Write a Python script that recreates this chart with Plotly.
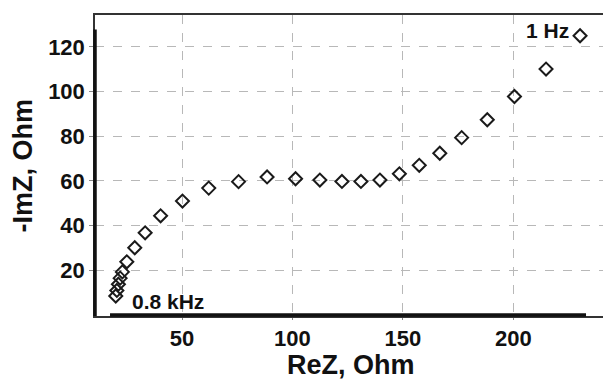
import plotly.graph_objects as go

re_z = [20.0, 20.5, 21.2, 22.0, 23.0, 25.0, 28.6, 33.3, 40.3, 50.2, 62.1, 75.6, 88.5,
        101.4, 112.4, 122.4, 131.0, 139.6, 148.4, 157.4, 166.7, 176.6, 188.2, 200.5,
        214.8, 230.2]
neg_im_z = [8.5, 11.0, 13.8, 16.5, 19.3, 23.8, 30.1, 36.8, 44.4, 51.0, 56.8, 59.7, 61.8,
            61.0, 60.4, 59.8, 59.8, 60.4, 63.2, 67.0, 72.4, 79.4, 87.4, 97.8,
            110.1, 125.0]
x_ticks = [50, 100, 150, 200]
y_ticks = [20, 40, 60, 80, 100, 120]
labels = ["0.8 kHz", "1 Hz"]
label_x = [43.6, 215.3]
label_y = [6.0, 127.2]

FONT = "Arial, Liberation Sans, sans-serif"

fig = go.Figure()
fig.add_trace(go.Scatter(
    x=re_z, y=neg_im_z, mode="markers",
    marker=dict(symbol="diamond-open", size=10, color="#1a1a1a", line=dict(width=2, color="#1a1a1a")),
    showlegend=False, cliponaxis=False,
))

for t, lx, ly in zip(labels, label_x, label_y):
    fig.add_annotation(x=lx, y=ly, text=t, showarrow=False, xanchor="center", yanchor="middle",
                       font=dict(family=FONT, size=21, color="#111", weight="bold"))

fig.add_annotation(xref="paper", yref="paper", x=0.5, y=0, yanchor="middle", yshift=-49,
                   text="ReZ, Ohm", showarrow=False,
                   font=dict(family=FONT, size=27, color="#111", weight="bold"))
fig.add_annotation(xref="paper", yref="paper", x=0, y=0.5, xanchor="center", xshift=-73,
                   text="-ImZ, Ohm", textangle=-90, showarrow=False,
                   font=dict(family=FONT, size=27, color="#111", weight="bold"))

# thick axis strokes (left and bottom)
fig.add_shape(type="line", xref="x domain", yref="y", x0=0, x1=0, y0=-0.45, y1=127.8,
              line=dict(color="#111", width=3.5))
fig.add_shape(type="line", xref="x", yref="y domain", x0=17.4, x1=232.9, y0=0.003, y1=0.003,
              line=dict(color="#111", width=3.5))

fig.update_xaxes(
    range=[10.6, 242.4], tickvals=x_ticks, ticks="outside", ticklen=2, tickcolor="#888",
    showline=True, mirror=True, linecolor="#333", linewidth=1.5,
    showgrid=True, gridcolor="#b8b8b8", griddash="dash", gridwidth=1, zeroline=False,
    tickfont=dict(family=FONT, size=22, color="#111", weight="bold"),
)
fig.update_yaxes(
    range=[-0.45, 134.3], tickvals=y_ticks, ticks="outside", ticklen=4, tickcolor="#888",
    showline=True, mirror=True, linecolor="#333", linewidth=1.5,
    showgrid=True, gridcolor="#b8b8b8", griddash="dash", gridwidth=1, zeroline=False,
    tickfont=dict(family=FONT, size=22, color="#111", weight="bold"),
)
# page body has an 8px default margin, so the figure is sized/offset to compensate
fig.update_layout(
    width=603, height=371, margin=dict(l=87, r=2, t=7, b=62.5),
    plot_bgcolor="white", paper_bgcolor="white",
)
fig.write_html("out.html")
